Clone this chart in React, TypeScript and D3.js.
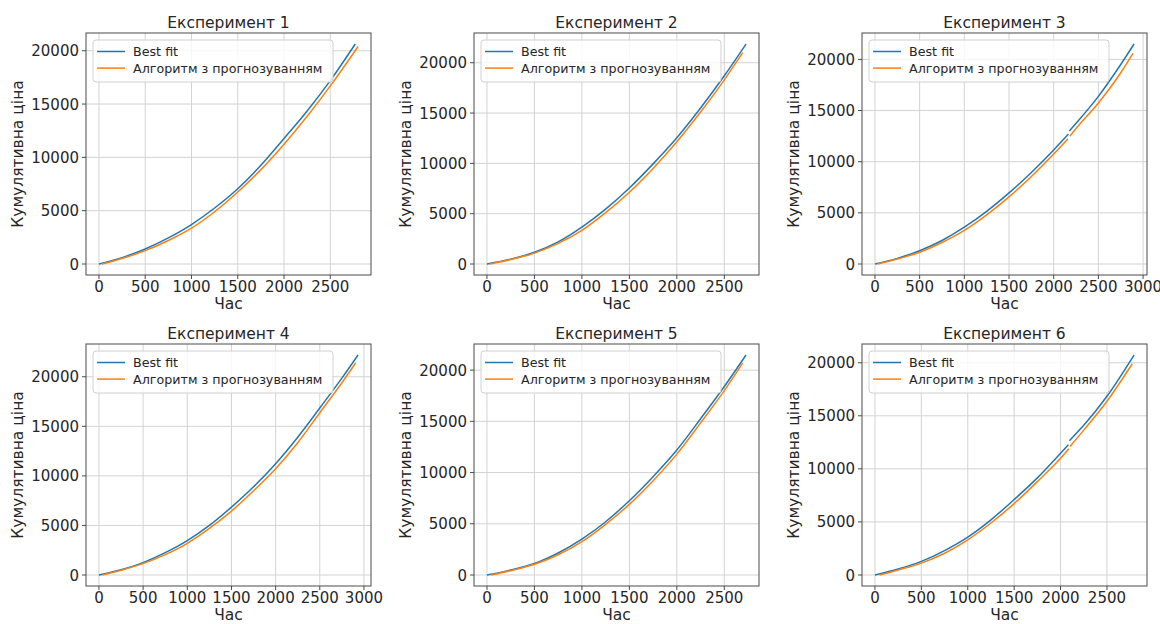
import React from "react";
import * as d3 from "d3";

type Pt = [number, number];

const titles = ["Експеримент 1", "Експеримент 2", "Експеримент 3", "Експеримент 4", "Експеримент 5", "Експеримент 6"];
const seriesNames = ["Best fit", "Алгоритм з прогнозуванням"];
const seriesColors = ["#1f77b4", "#ff7f0e"];
const xLabel = "Час";
const yLabel = "Кумулятивна ціна";

// NaN marks a small break (jump) in the recorded series
const exp1Best: Pt[] = [[0, 0], [250, 600], [500, 1410], [750, 2450], [1000, 3700], [1250, 5250], [1500, 7060], [1750, 9250], [2000, 11770], [2250, 14350], [2500, 17200], [2770, 20630]];
const exp1Algo: Pt[] = [[30, 0], [250, 520], [500, 1255], [750, 2200], [1000, 3360], [1250, 4900], [1500, 6750], [1750, 8850], [2000, 11240], [2250, 13850], [2500, 16700], [2800, 20400]];

const exp2Best: Pt[] = [[0, 0], [250, 480], [500, 1170], [750, 2200], [1000, 3670], [1250, 5450], [1500, 7550], [1750, 9950], [2000, 12550], [2250, 15500], [2500, 18700], [2729, 21860]];
const exp2Algo: Pt[] = [[30, 0], [250, 450], [500, 1080], [750, 2050], [1000, 3350], [1250, 5100], [1500, 7130], [1750, 9500], [2000, 12150], [2250, 15100], [2500, 18300], [2694, 21000]];

const exp3Best: Pt[] = [[0, 0], [250, 550], [500, 1300], [750, 2300], [1000, 3600], [1250, 5150], [1500, 6950], [1750, 8950], [2000, 11150], [2165, 12700], [2170, NaN], [2175, 13000], [2250, 13750], [2500, 16390], [2750, 19500], [2899, 21507]];
const exp3Algo: Pt[] = [[30, 0], [250, 480], [500, 1150], [750, 2100], [1000, 3280], [1250, 4800], [1500, 6560], [1750, 8550], [2000, 10750], [2160, 12250], [2170, NaN], [2180, 12500], [2250, 13250], [2500, 15740], [2750, 18700], [2887, 20590]];

const exp4Best: Pt[] = [[0, 0], [250, 520], [500, 1250], [750, 2250], [1000, 3470], [1250, 5000], [1500, 6850], [1750, 8900], [2000, 11230], [2250, 13900], [2500, 16850], [2750, 19860], [2933, 22195]];
const exp4Algo: Pt[] = [[40, 0], [250, 480], [500, 1150], [750, 2050], [1000, 3200], [1250, 4700], [1500, 6440], [1750, 8500], [2000, 10720], [2250, 13350], [2500, 16375], [2750, 19400], [2907, 21416]];

const exp5Best: Pt[] = [[0, 0], [250, 480], [500, 1120], [750, 2150], [1000, 3500], [1250, 5200], [1500, 7250], [1750, 9600], [2000, 12200], [2250, 15250], [2500, 18400], [2729, 21478]];
const exp5Algo: Pt[] = [[40, 0], [250, 420], [500, 1050], [750, 1980], [1000, 3250], [1250, 4950], [1500, 6900], [1750, 9200], [2000, 11800], [2250, 14850], [2500, 18000], [2694, 20690]];

const exp6Best: Pt[] = [[0, 0], [250, 560], [500, 1280], [750, 2300], [1000, 3570], [1250, 5200], [1500, 7110], [1750, 9150], [2000, 11470], [2085, 12280], [2090, NaN], [2095, 12650], [2250, 14100], [2500, 16840], [2792, 20730]];
const exp6Algo: Pt[] = [[50, 0], [250, 470], [500, 1120], [750, 2050], [1000, 3320], [1250, 4900], [1500, 6730], [1750, 8800], [2000, 11000], [2090, 11900], [2095, NaN], [2100, 12100], [2250, 13650], [2500, 16370], [2773, 19905]];

const bestSeries = [exp1Best, exp2Best, exp3Best, exp4Best, exp5Best, exp6Best];
const algoSeries = [exp1Algo, exp2Algo, exp3Algo, exp4Algo, exp5Algo, exp6Algo];

const FONT = "'DejaVu Sans', Verdana, sans-serif";
const TEXT = "#262626";
const colLefts = [86, 474, 862];
const rowTops = [33, 344];
const PW = 285;
const PH = 242;

function Panel({ idx }: { idx: number }) {
  const left = colLefts[idx % 3];
  const top = rowTops[Math.floor(idx / 3)];
  const right = left + PW;
  const bottom = top + PH;
  const series = [bestSeries[idx], algoSeries[idx]];
  const all = series[0].concat(series[1]).filter((d) => !isNaN(d[1]));
  const [xa, xb] = d3.extent(all, (d) => d[0]) as [number, number];
  const [ya, yb] = d3.extent(all, (d) => d[1]) as [number, number];
  const px = (xb - xa) * 0.05;
  const py = (yb - ya) * 0.05;
  const x = d3.scaleLinear().domain([xa - px, xb + px]).range([left, right]);
  const y = d3.scaleLinear().domain([ya - py, yb + py]).range([bottom, top]);
  const xt = x.ticks(6).filter((t) => t >= xa - px && t <= xb + px);
  const yt = y.ticks(5).filter((t) => t >= ya - py && t <= yb + py);
  const line = d3
    .line<Pt>()
    .defined((d) => !isNaN(d[1]))
    .x((d) => x(d[0]))
    .y((d) => y(d[1]))
    .curve(d3.curveMonotoneX);
  const lx = left + 7;
  const ly = top + 7;
  return (
    <g>
      {xt.map((t) => (
        <line key={"gx" + t} x1={x(t)} x2={x(t)} y1={top} y2={bottom} stroke="#d3d3d3" strokeWidth={1} />
      ))}
      {yt.map((t) => (
        <line key={"gy" + t} x1={left} x2={right} y1={y(t)} y2={y(t)} stroke="#d3d3d3" strokeWidth={1} />
      ))}
      {series.map((s, i) => (
        <path key={"s" + i} d={line(s) || ""} fill="none" stroke={seriesColors[i]} strokeWidth={1.5} />
      ))}
      <rect x={left} y={top} width={PW} height={PH} fill="none" stroke="#4a4a4a" strokeWidth={1} />
      {xt.map((t) => (
        <g key={"tx" + t}>
          <line x1={x(t)} x2={x(t)} y1={bottom} y2={bottom + 4} stroke="#4a4a4a" />
          <text x={x(t)} y={bottom + 17} textAnchor="middle" fontSize={15} fill={TEXT} fontFamily={FONT}>
            {d3.format("d")(t)}
          </text>
        </g>
      ))}
      {yt.map((t) => (
        <g key={"ty" + t}>
          <line x1={left - 4} x2={left} y1={y(t)} y2={y(t)} stroke="#4a4a4a" />
          <text x={left - 7} y={y(t) + 5.5} textAnchor="end" fontSize={15} fill={TEXT} fontFamily={FONT}>
            {d3.format("d")(t)}
          </text>
        </g>
      ))}
      <text x={(left + right) / 2} y={top - 5} textAnchor="middle" fontSize={15.5} fill={TEXT} fontFamily={FONT}>
        {titles[idx]}
      </text>
      <text x={(left + right) / 2} y={bottom + 34} textAnchor="middle" fontSize={15.5} fill={TEXT} fontFamily={FONT}>
        {xLabel}
      </text>
      <text
        transform={`translate(${left - 63},${(top + bottom) / 2}) rotate(-90)`}
        textAnchor="middle"
        fontSize={15.5}
        fill={TEXT}
        fontFamily={FONT}
      >
        {yLabel}
      </text>
      <rect x={lx} y={ly} width={240} height={42} rx={3} fill="#ffffff" fillOpacity={0.8} stroke="#d0d0d0" />
      {seriesNames.map((n, i) => (
        <g key={"l" + i}>
          <line x1={lx + 4} x2={lx + 32} y1={ly + 11.5 + i * 16.6} y2={ly + 11.5 + i * 16.6} stroke={seriesColors[i]} strokeWidth={1.5} />
          <text x={lx + 40} y={ly + 16 + i * 16.6} fontSize={12.7} fill={TEXT} fontFamily={FONT}>
            {n}
          </text>
        </g>
      ))}
    </g>
  );
}

export default function App() {
  return (
    <svg
      width={1160}
      height={624}
      style={{ position: "absolute", left: 0, top: 0, background: "#ffffff" }}
    >
      <rect width={1160} height={624} fill="#ffffff" />
      {titles.map((_, i) => (
        <Panel key={i} idx={i} />
      ))}
    </svg>
  );
}
